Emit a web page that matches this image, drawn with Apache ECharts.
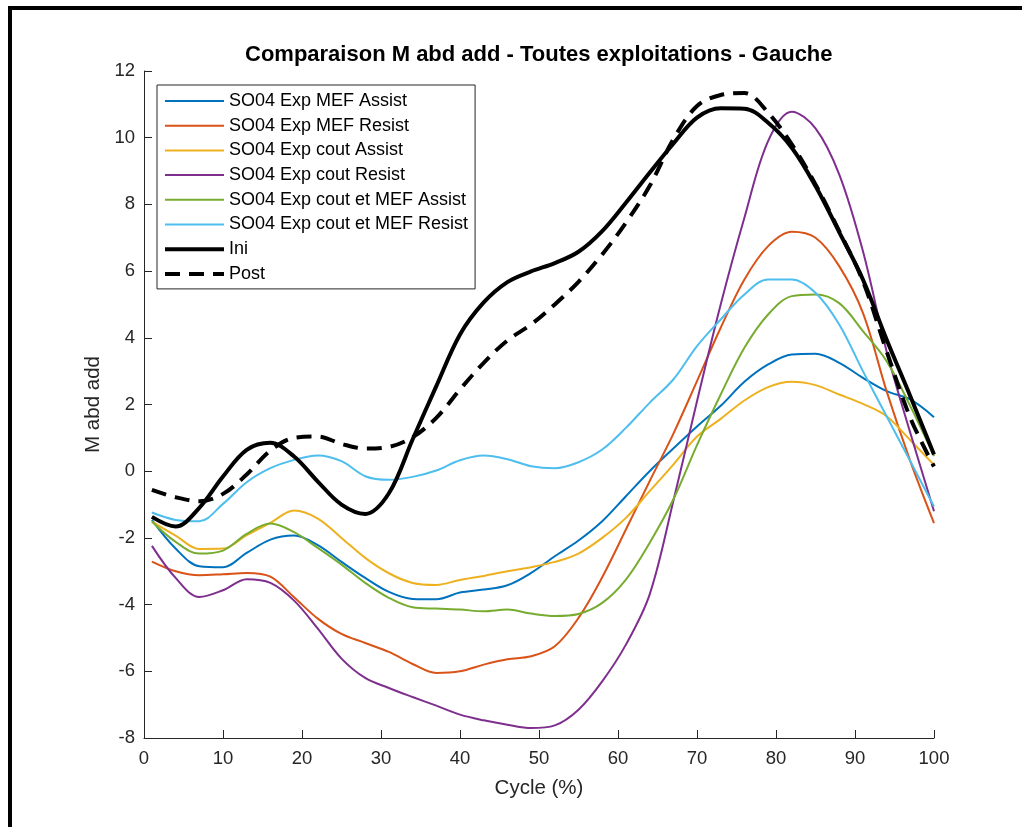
<!DOCTYPE html>
<html>
<head>
<meta charset="utf-8">
<script src="https://cdn.jsdelivr.net/npm/echarts@6/dist/echarts.min.js"></script>
<style>
html,body{margin:0;padding:0;background:#fff;}
#main{width:1022px;height:827px;}
</style>
</head>
<body>
<div id="main"></div>
<script>
var cycle = [1,4,7,10,13,16,19,22,25,28,31,34,37,40,43,46,49,52,55,58,61,64,67,70,73,76,79,82,85,88,91,94,97,100];

var mefAssist = [-1.46,-2.32,-2.85,-2.88,-2.45,-2.05,-1.93,-2.22,-2.72,-3.2,-3.62,-3.83,-3.84,-3.64,-3.55,-3.42,-3.05,-2.55,-2.08,-1.5,-0.75,0.0,0.68,1.34,1.96,2.68,3.2,3.5,3.52,3.25,2.8,2.4,2.15,1.62];
var mefResist = [-2.71,-3.0,-3.12,-3.09,-3.05,-3.16,-3.78,-4.42,-4.88,-5.15,-5.42,-5.78,-6.05,-6.0,-5.8,-5.64,-5.55,-5.25,-4.4,-3.18,-1.75,-0.3,1.12,2.7,4.3,5.75,6.75,7.18,7.0,6.15,4.75,2.4,0.3,-1.56];
var coutAssist = [-1.51,-1.93,-2.33,-2.32,-1.92,-1.55,-1.18,-1.42,-2.0,-2.6,-3.06,-3.35,-3.41,-3.26,-3.14,-3.0,-2.88,-2.72,-2.47,-2.0,-1.4,-0.6,0.2,1.04,1.57,2.12,2.52,2.68,2.58,2.3,2.02,1.65,0.93,0.19];
var coutResist = [-2.24,-3.2,-3.77,-3.57,-3.24,-3.35,-3.88,-4.72,-5.62,-6.2,-6.5,-6.77,-7.03,-7.3,-7.47,-7.6,-7.7,-7.62,-7.15,-6.3,-5.2,-3.7,-0.9,2.1,5.0,7.6,9.9,10.78,10.28,8.9,6.6,3.6,1.15,-1.2];
var coutMefAssist = [-1.51,-2.12,-2.47,-2.38,-1.88,-1.57,-1.83,-2.3,-2.8,-3.35,-3.8,-4.08,-4.12,-4.15,-4.2,-4.15,-4.27,-4.34,-4.28,-3.95,-3.25,-2.15,-0.85,0.78,2.3,3.7,4.7,5.25,5.3,5.04,4.2,3.3,1.95,0.45];
var coutMefResist = [-1.24,-1.46,-1.5,-0.98,-0.33,0.09,0.34,0.47,0.3,-0.15,-0.26,-0.17,0.02,0.33,0.47,0.36,0.15,0.09,0.27,0.65,1.3,2.05,2.75,3.75,4.55,5.3,5.75,5.75,5.35,4.4,3.0,1.65,0.3,-1.06];
var ini = [-1.37,-1.66,-1.1,-0.16,0.64,0.85,0.44,-0.31,-1.0,-1.28,-0.66,0.95,2.55,4.1,5.06,5.67,5.99,6.24,6.58,7.2,8.05,8.95,9.82,10.6,10.88,10.87,10.45,9.7,8.55,7.17,5.75,3.95,2.25,0.5];
var post = [-0.56,-0.78,-0.9,-0.68,-0.1,0.62,1.0,1.04,0.82,0.68,0.73,1.02,1.6,2.45,3.25,3.92,4.4,5.0,5.68,6.5,7.45,8.55,9.95,10.95,11.28,11.34,10.75,9.8,8.6,7.2,5.7,3.6,1.6,0.14];

var names = ['SO04 Exp MEF Assist','SO04 Exp MEF Resist','SO04 Exp cout Assist','SO04 Exp cout Resist',
	'SO04 Exp cout et MEF Assist','SO04 Exp cout et MEF Resist','Ini','Post'];
var values = [mefAssist,mefResist,coutAssist,coutResist,coutMefAssist,coutMefResist,ini,post];
var colors = ['#0072BD','#D95319','#EDB120','#7E2F8E','#77AC30','#4DBEEE','#000000','#000000'];

var fontf = '"Liberation Sans", Arial, sans-serif',
	ticksize = 18.5, namesize = 20.5, titlesize = 22, legsize = 18,
	axcolor = '#262626';

function pairs(ys){
	var out = [];
	for (var i = 0; i < cycle.length; i++) out.push([cycle[i], ys[i]]);
	return out;
}

var series = [];
for (var k = 0; k < names.length; k++) {
	var thick = k >= 6;
	series.push({
		name: names[k],
		type: 'line',
		data: pairs(values[k]),
		symbol: 'none',
		smooth: 0.35,
		color: colors[k],
		lineStyle: {
			color: colors[k],
			width: thick ? 4 : 2,
			type: k == 7 ? [15, 9] : 'solid',
			cap: 'butt'
		}
	});
}

var myChart = echarts.init(document.getElementById('main'));
var option = {
	animation: false,
	backgroundColor: '#fff',
	title: {
		text: 'Comparaison M abd add - Toutes exploitations - Gauche',
		left: 240,
		top: 39,
		textStyle: {
			fontFamily: fontf,
			fontSize: titlesize,
			fontWeight: 'bold',
			color: '#000'
		}
	},
	grid: {
		left: 144,
		right: 88,
		top: 71,
		bottom: 89
	},
	legend: {
		orient: 'vertical',
		left: 157,
		top: 85,
		data: names,
		itemWidth: 59,
		itemHeight: 14,
		itemGap: 6.7,
		padding: [7, 7, 6, 6],
		borderColor: axcolor,
		borderWidth: 1,
		backgroundColor: '#fff',
		itemStyle: { opacity: 0 },
		lineStyle: { width: 'inherit' },
		textStyle: {
			fontFamily: fontf,
			fontSize: legsize,
			lineHeight: 18,
			color: '#000'
		}
	},
	xAxis: {
		type: 'value',
		min: 0,
		max: 100,
		interval: 10,
		name: 'Cycle (%)',
		nameLocation: 'middle',
		nameGap: 40,
		nameTextStyle: { fontFamily: fontf, fontSize: namesize, color: axcolor },
		axisLine: { onZero: false, lineStyle: { color: axcolor, width: 1 } },
		axisTick: { inside: true, length: 8, lineStyle: { color: axcolor } },
		axisLabel: { margin: 11, fontFamily: fontf, fontSize: ticksize, color: axcolor },
		splitLine: { show: false }
	},
	yAxis: {
		type: 'value',
		min: -8,
		max: 12,
		interval: 2,
		name: 'M abd add',
		nameLocation: 'middle',
		nameGap: 36,
		nameTextStyle: { fontFamily: fontf, fontSize: namesize, color: axcolor },
		axisLine: { show: true, onZero: false, lineStyle: { color: axcolor, width: 1 } },
		axisTick: { show: true, inside: true, length: 8, lineStyle: { color: axcolor } },
		axisLabel: { margin: 9, fontFamily: fontf, fontSize: ticksize, color: axcolor },
		splitLine: { show: false }
	},
	graphic: [
		{ type: 'rect', left: 8, top: 6, shape: { width: 1014, height: 4 }, style: { fill: '#000' } },
		{ type: 'rect', left: 8, top: 6, shape: { width: 4, height: 821 }, style: { fill: '#000' } }
	],
	series: series
};
myChart.setOption(option);
</script>
</body>
</html>
